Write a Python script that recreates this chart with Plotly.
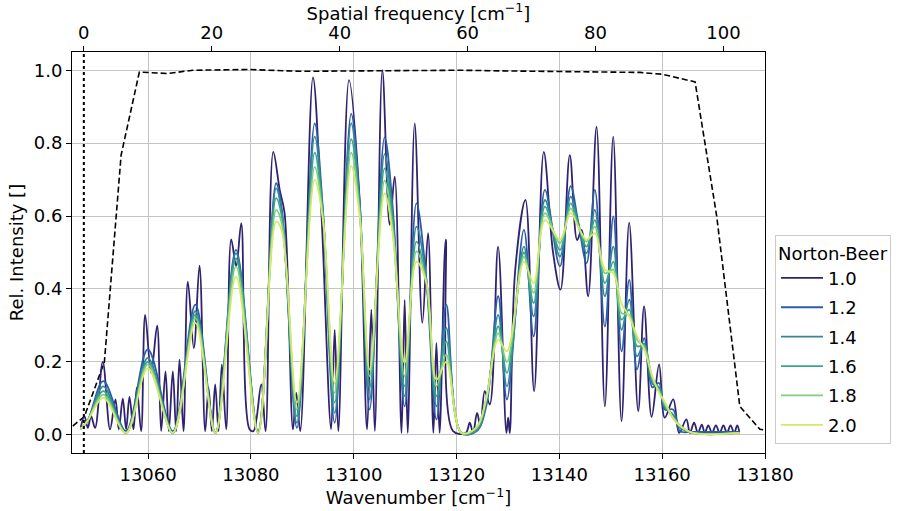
import plotly.graph_objects as go

# ---------------- data ----------------
filter_wn = [13045.35, 13047.6, 13051.5, 13054.75, 13058.3, 13063.8, 13068.7, 13079.7,
             13089.5, 13100.0, 13110.0, 13120.6, 13130.0, 13140.1, 13150.0, 13155.7,
             13160.0, 13166.4, 13170.6, 13175.1, 13179.0, 13180.0]
filter_y = [0.024, 0.05, 0.20, 0.767, 0.995, 0.991, 1.0, 1.002,
            0.997, 0.998, 1.0, 1.0, 0.998, 0.997, 0.995, 0.994,
            0.989, 0.968, 0.60, 0.078, 0.015, 0.013]

nb10_wn = [13046.9, 13047.62, 13048.27, 13048.91, 13049.69, 13051.19, 13052.6, 13053.65,
           13054.3, 13055.08, 13055.73, 13056.38, 13057.16, 13057.8, 13058.65, 13059.43,
           13060.6, 13061.76, 13062.54, 13063.39, 13064.03, 13064.81, 13065.46, 13066.11,
           13066.89, 13067.73, 13068.9, 13070.0, 13071.11, 13071.76, 13072.41, 13073.05,
           13073.7, 13074.35, 13075.2, 13076.17, 13077.14, 13078.12, 13079.74, 13080.5,
           13082.01, 13082.85, 13084.35, 13085.6, 13086.55, 13088.18, 13088.82, 13089.6,
           13092.07, 13093.69, 13095.6, 13096.3, 13097.0, 13099.08, 13101.15, 13102.6,
           13103.42, 13104.1, 13105.57, 13107.0, 13107.97, 13109.3, 13109.91, 13110.5,
           13111.86, 13113.35, 13114.46, 13115.5, 13116.08, 13116.7, 13117.9, 13119.32,
           13121.79, 13122.57, 13123.22, 13123.99, 13124.64, 13125.49, 13126.46, 13128.08,
           13129.7, 13130.03, 13130.35, 13131.4, 13133.4, 13135.09, 13136.97, 13138.79,
           13140.22, 13142.03, 13143.46, 13144.31, 13145.6, 13147.23, 13148.85, 13150.47,
           13152.09, 13153.58, 13155.34, 13156.48, 13157.95, 13159.4, 13160.5, 13162.15,
           13163.3, 13164.7, 13165.4, 13166.2, 13166.95, 13167.7, 13168.3, 13168.96,
           13169.7, 13170.45, 13171.2, 13171.9, 13172.6, 13173.3, 13174.0, 13174.6, 13175.0]
nb10_y = [0.02, 0.051, 0.019, 0.051, 0.019, 0.200, 0.015, 0.097,
          0.015, 0.099, 0.015, 0.104, 0.015, 0.129, 0.01, 0.329,
          0.17, 0.299, 0.01, 0.174, 0.01, 0.174, 0.01, 0.206,
          0.01, 0.42, 0.238, 0.464, 0.01, 0.129, 0.01, 0.138,
          0.01, 0.193, 0.015, 0.536, 0.462, 0.58, 0.015, 0.01,
          0.138, 0.01, 0.776, 0.672, 0.608, 0.015, 0.115, 0.01,
          0.98, 0.617, 0.015, 0.288, 0.01, 0.973, 0.644, 0.015,
          0.343, 0.01, 1.0, 0.576, 0.708, 0.005, 0.37, 0.005,
          0.854, 0.307, 0.553, 0.005, 0.252, 0.005, 0.535, 0.01,
          0.005, 0.033, 0.005, 0.06, 0.024, 0.12, 0.083, 0.516,
          0.005, 0.047, 0.005, 0.45, 0.644, 0.12, 0.776, 0.498,
          0.398, 0.767, 0.534, 0.562, 0.38, 0.845, 0.078, 0.818,
          0.037, 0.582, 0.065, 0.352, 0.049, 0.193, 0.047, 0.097,
          0.005, 0.042, 0.005, 0.033, 0.005, 0.028, 0.005, 0.026,
          0.005, 0.026, 0.005, 0.026, 0.005, 0.026, 0.005, 0.026, 0.008]

smooth_wn = [13046.9, 13048.3, 13051.3, 13055.7, 13059.95, 13064.8, 13069.2, 13073.1,
             13077.1, 13081.4, 13084.9, 13086.0, 13088.95, 13092.4, 13094.0, 13096.3,
             13099.5, 13101.15, 13103.1, 13106.0, 13107.6, 13109.9, 13112.2, 13114.1,
             13116.1, 13118.0, 13120.95, 13123.9, 13125.8, 13128.1, 13129.8, 13133.1,
             13135.0, 13137.2, 13140.1, 13142.2, 13143.7, 13145.3, 13146.9, 13148.85,
             13150.5, 13152.1, 13153.6, 13155.1, 13156.5, 13158.1, 13159.4, 13160.5,
             13162.15, 13163.45, 13166.0, 13175.0]
nb12_y = [0.015, 0.04, 0.147, 0.01, 0.234, 0.01, 0.357, 0.005,
          0.507, 0.01, 0.69, 0.62, 0.019, 0.854, 0.62, 0.033,
          0.88, 0.64, 0.069, 0.816, 0.62, 0.078, 0.635, 0.43,
          0.042, 0.357, 0.005, 0.01, 0.08, 0.38, 0.097, 0.562,
          0.27, 0.672, 0.462, 0.682, 0.58, 0.471, 0.672, 0.297,
          0.599, 0.229, 0.425, 0.179, 0.265, 0.13, 0.142, 0.069,
          0.069, 0.01, 0.008, 0.008]
nb14_y = [0.015, 0.04, 0.133, 0.005, 0.211, 0.005, 0.339, 0.005,
          0.498, 0.005, 0.676, 0.61, 0.033, 0.818, 0.61, 0.06,
          0.854, 0.63, 0.097, 0.77, 0.60, 0.106, 0.571, 0.43,
          0.078, 0.293, 0.005, 0.01, 0.09, 0.329, 0.133, 0.516,
          0.325, 0.644, 0.489, 0.653, 0.58, 0.498, 0.617, 0.38,
          0.516, 0.288, 0.371, 0.215, 0.25, 0.14, 0.13, 0.075,
          0.055, 0.02, 0.005, 0.005]
nb16_y = [0.015, 0.04, 0.12, 0.005, 0.2, 0.005, 0.329, 0.005,
          0.484, 0.005, 0.649, 0.6, 0.051, 0.774, 0.6, 0.088,
          0.811, 0.62, 0.129, 0.731, 0.58, 0.133, 0.53, 0.42,
          0.106, 0.256, 0.005, 0.015, 0.1, 0.297, 0.17, 0.5,
          0.361, 0.626, 0.507, 0.635, 0.575, 0.516, 0.589, 0.416,
          0.475, 0.316, 0.343, 0.243, 0.245, 0.15, 0.125, 0.08,
          0.05, 0.025, 0.005, 0.005]
nb18_y = [0.015, 0.04, 0.11, 0.005, 0.193, 0.005, 0.32, 0.005,
          0.462, 0.005, 0.617, 0.58, 0.069, 0.735, 0.6, 0.115,
          0.774, 0.61, 0.161, 0.697, 0.56, 0.161, 0.503, 0.42,
          0.133, 0.22, 0.005, 0.02, 0.1, 0.279, 0.2, 0.488,
          0.389, 0.608, 0.526, 0.621, 0.57, 0.53, 0.571, 0.443,
          0.453, 0.334, 0.329, 0.261, 0.24, 0.155, 0.12, 0.085,
          0.045, 0.025, 0.005, 0.005]
nb20_y = [0.015, 0.04, 0.101, 0.005, 0.183, 0.005, 0.307, 0.005,
          0.434, 0.005, 0.585, 0.56, 0.088, 0.699, 0.59, 0.142,
          0.737, 0.6, 0.179, 0.662, 0.55, 0.197, 0.475, 0.42,
          0.151, 0.2, 0.005, 0.02, 0.1, 0.261, 0.229, 0.475,
          0.416, 0.589, 0.535, 0.608, 0.57, 0.535, 0.553, 0.453,
          0.443, 0.36, 0.325, 0.27, 0.234, 0.16, 0.115, 0.09,
          0.045, 0.024, 0.005, 0.005]

nb_labels = ["1.0", "1.2", "1.4", "1.6", "1.8", "2.0"]
nb_colors = ["#2f2270", "#2b5ea8", "#348597", "#3aa58a", "#7ccf7e", "#d4e86a"]

bottom_ticks = [13060, 13080, 13100, 13120, 13140, 13160, 13180]
bottom_ticktext = ["13060", "13080", "13100", "13120", "13140", "13160", "13180"]
top_ticks = [0, 20, 40, 60, 80, 100]
top_ticktext = ["0", "20", "40", "60", "80", "100"]
y_ticks = [0.0, 0.2, 0.4, 0.6, 0.8, 1.0]
y_ticktext = ["0.0", "0.2", "0.4", "0.6", "0.8", "1.0"]

# ---------------- figure ----------------
FONT = "DejaVu Sans"
fig = go.Figure()

fig.add_trace(go.Scatter(x=filter_wn, y=filter_y, mode="lines",
                         line=dict(color="black", width=1.6, dash="6px,3px"),
                         showlegend=False, hoverinfo="skip"))

series = [(nb10_wn, nb10_y), (smooth_wn, nb12_y), (smooth_wn, nb14_y),
          (smooth_wn, nb16_y), (smooth_wn, nb18_y), (smooth_wn, nb20_y)]
for (xs, ys), lab, col in zip(series, nb_labels, nb_colors):
    fig.add_trace(go.Scatter(x=xs, y=ys, mode="lines", name=lab, legendgroup=lab,
                             line=dict(color=col, width=1.8, shape="spline", smoothing=1.0)))

fig.add_trace(go.Scatter(x=[0, 0], y=[-0.05, 1.05], xaxis="x2", mode="lines",
                         line=dict(color="black", width=2, dash="dot"),
                         showlegend=False, hoverinfo="skip"))

axis_common = dict(showline=True, linecolor="black", linewidth=1, ticks="outside",
                   ticklen=5, tickcolor="black", zeroline=False, automargin=False,
                   tickfont=dict(family=FONT, size=18, color="black"))

fig.update_layout(
    template="none",
    width=906, height=511,
    margin=dict(l=72, r=141, t=52, b=58),
    paper_bgcolor="white", plot_bgcolor="white",
    font=dict(family=FONT, size=18, color="black"),
    xaxis=dict(range=[13045.2, 13180], tickvals=bottom_ticks, ticktext=bottom_ticktext,
               showgrid=True, gridcolor="#c4c4c4", gridwidth=1,
               title=dict(text="Wavenumber [cm<sup>−1</sup>]", standoff=4,
                          font=dict(family=FONT, size=18)),
               **axis_common),
    xaxis2=dict(overlaying="x", side="top", range=[-1.85, 106.5], tickvals=top_ticks,
                ticktext=top_ticktext, showgrid=False,
                title=dict(text="Spatial frequency [cm<sup>−1</sup>]", standoff=3,
                           font=dict(family=FONT, size=18)),
                **axis_common),
    yaxis=dict(range=[-0.05, 1.05], tickvals=y_ticks, ticktext=y_ticktext,
               showgrid=True, gridcolor="#c4c4c4", gridwidth=1, mirror=True,
               title=dict(text="Rel. Intensity []", standoff=5,
                          font=dict(family=FONT, size=18)),
               **axis_common),
    legend=dict(title=dict(text="Norton-Beer", font=dict(family=FONT, size=18)),
                font=dict(family=FONT, size=18), x=1.0144, y=0.543,
                xanchor="left", yanchor="top", bordercolor="#cccccc", borderwidth=1,
                bgcolor="white", tracegroupgap=3, itemwidth=42),
)

fig.write_html("out.html")
